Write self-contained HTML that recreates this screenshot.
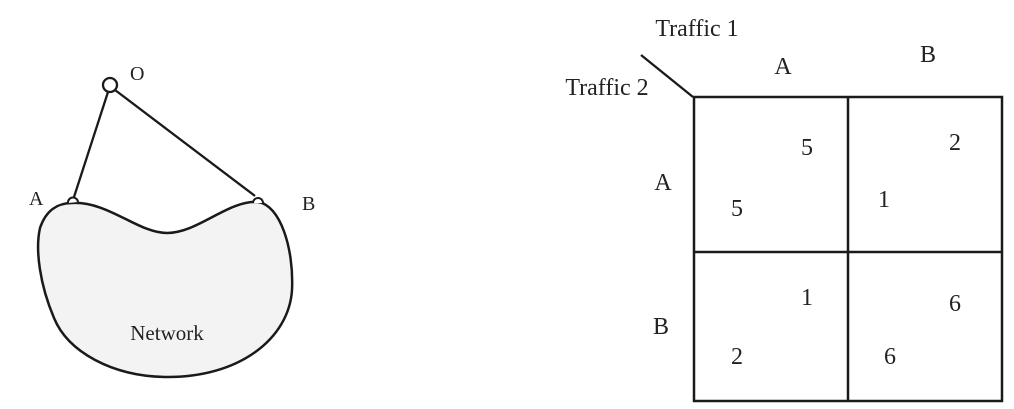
<!DOCTYPE html>
<html><head><meta charset="utf-8"><style>html,body{margin:0;padding:0;background:#fff}svg{display:block}text{font-family:"Liberation Serif","DejaVu Serif",serif}</style></head>
<body>
<svg width="1014" height="409" viewBox="0 0 1014 409" xmlns="http://www.w3.org/2000/svg" fill="#222">
<path d="M72,203 C108,201 138,233 167,233 C198,233 228,200 258,202 C280,205 294,248 292,290 C289,338 240,378 165,377 C112,376 68,352 54,318 C40,285 35,250 40,228 C46,210 58,203 72,203 Z" fill="#f3f3f3" stroke="#1a1a1a" stroke-width="2.5"/>
<line x1="108" y1="92" x2="74" y2="197" stroke="#1a1a1a" stroke-width="2.3"/>
<line x1="115" y1="90" x2="255" y2="196" stroke="#1a1a1a" stroke-width="2.3"/>
<circle cx="110" cy="85" r="7" fill="#fff" stroke="#1a1a1a" stroke-width="2.3"/>
<path d="M68,203 A4.5,4.5 0 0 1 78,202" fill="#fff" stroke="#1a1a1a" stroke-width="2"/>
<path d="M253,203 A5,5 0 1 1 263,203" fill="#fff" stroke="#1a1a1a" stroke-width="2"/>
<text x="130" y="80" font-size="20">O</text>
<text x="29" y="205" font-size="20">A</text>
<text x="302" y="210" font-size="20">B</text>
<text x="167" y="340" font-size="21" text-anchor="middle">Network</text>
<line x1="641" y1="55" x2="693" y2="97" stroke="#1a1a1a" stroke-width="2.3"/>
<rect x="694" y="97" width="308" height="304" fill="none" stroke="#1a1a1a" stroke-width="2.5"/>
<line x1="848" y1="97" x2="848" y2="401" stroke="#1a1a1a" stroke-width="2.5"/>
<line x1="694" y1="252" x2="1002" y2="252" stroke="#1a1a1a" stroke-width="2.5"/>
<g font-size="24" text-anchor="middle">
<text x="697" y="36">Traffic 1</text>
<text x="607" y="95">Traffic 2</text>
<text x="783" y="74">A</text>
<text x="928" y="62">B</text>
<text x="663" y="190">A</text>
<text x="661" y="334">B</text>
<text x="807" y="155">5</text>
<text x="737" y="216">5</text>
<text x="955" y="150">2</text>
<text x="884" y="207">1</text>
<text x="807" y="305">1</text>
<text x="737" y="364">2</text>
<text x="955" y="311">6</text>
<text x="890" y="364">6</text>
</g>
</svg>
</body></html>
